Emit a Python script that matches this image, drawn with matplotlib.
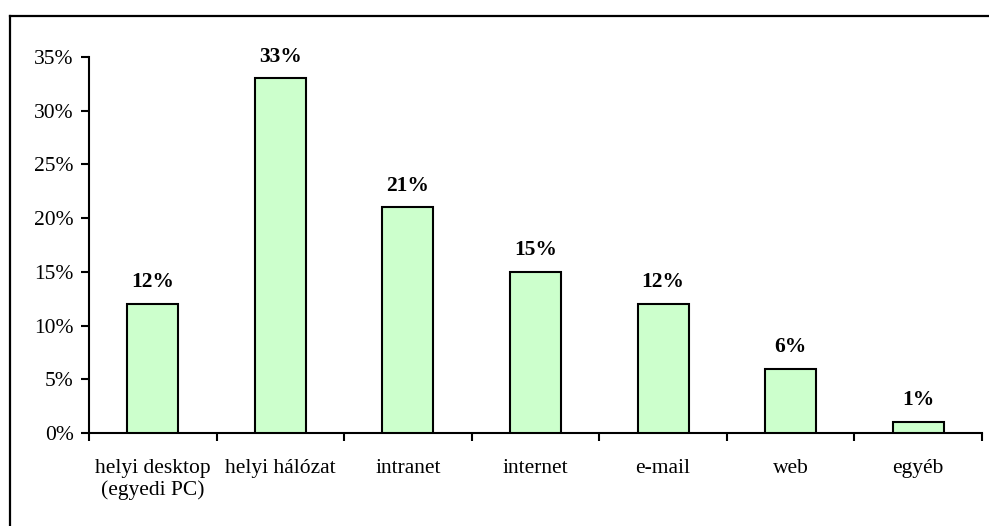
import matplotlib.pyplot as plt
from matplotlib.lines import Line2D
import numpy as np

plt.rcParams['font.family'] = ['Liberation Serif', 'DejaVu Serif']

categories = ['helyi desktop\n(egyedi PC)', 'helyi hálózat', 'intranet', 'internet',
              'e-mail', 'web', 'egyéb']
values = [12, 33, 21, 15, 12, 6, 1]

fig = plt.figure(figsize=(9.89, 5.26), dpi=100)
ax = fig.add_axes([89 / 989, 1 - 433 / 526, (982 - 89) / 989, (433 - 57) / 526])

x = np.arange(len(categories))
ax.bar(x, values, width=0.4, color='#ccffcc', edgecolor='black', linewidth=1.5, zorder=3)

for xi, v in zip(x, values):
    ax.text(xi, v + 1.1, f'{v}%', ha='center', va='bottom', fontsize=15.5, fontweight='bold')

ax.set_xlim(-0.5, len(categories) - 0.5)
ax.set_ylim(0, 35)
ax.set_yticks(np.arange(0, 36, 5))
ax.set_yticklabels([f'{t}%' for t in range(0, 36, 5)], fontsize=15.5)

# category ticks sit on the boundaries between bars
ax.set_xticks(np.arange(-0.5, len(categories), 1))
ax.set_xticklabels([])
ax.set_xticks(x, minor=True)
ax.set_xticklabels(categories, minor=True, fontsize=15.5, linespacing=1.15)
ax.tick_params(axis='x', which='minor', length=0, pad=19)
ax.tick_params(axis='x', which='major', direction='out', length=6, width=1.5)
ax.tick_params(axis='y', direction='out', length=6, width=1.5, pad=5)

for s in ['top', 'right']:
    ax.spines[s].set_visible(False)
for s in ['left', 'bottom']:
    ax.spines[s].set_linewidth(1.5)

# outer frame (left and top edges)
fig.add_artist(Line2D([9.5 / 989, 9.5 / 989], [0, 1 - 15.5 / 526], color='black',
                      lw=1.6, transform=fig.transFigure))
fig.add_artist(Line2D([9.5 / 989, 1], [1 - 15.5 / 526, 1 - 15.5 / 526], color='black',
                      lw=1.6, transform=fig.transFigure))

fig.savefig('out.png', dpi=100)
